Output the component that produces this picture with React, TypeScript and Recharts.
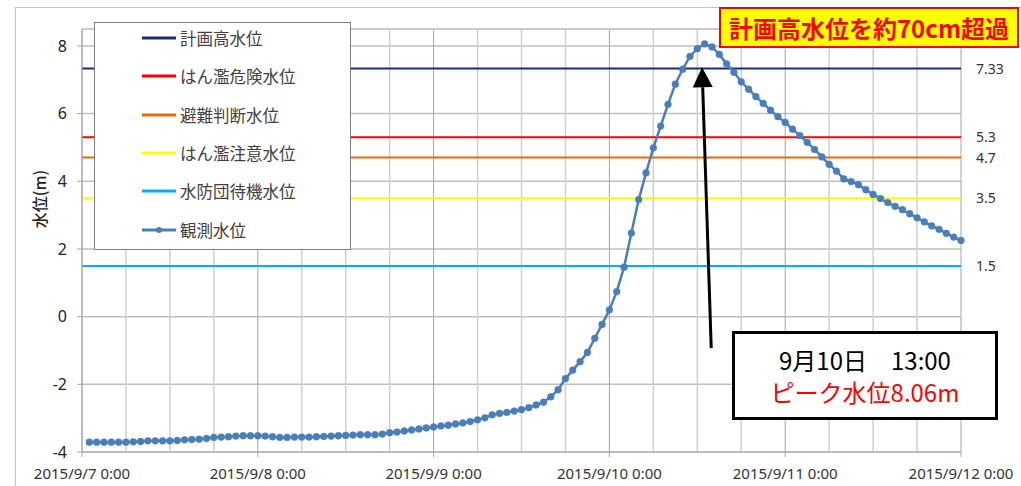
import React from 'react';
import { LineChart, Line, XAxis, YAxis, CartesianGrid, ReferenceLine, Legend } from 'recharts';

// hourly readings, 2015/9/7 1:00 .. 2015/9/12 0:00 (m)
const FIRST_HOUR = 1;
const LEVEL_M = [
  -3.71, -3.71, -3.71, -3.71, -3.71, -3.71, -3.70, -3.69, -3.67, -3.67, -3.67, -3.67,
  -3.66, -3.64, -3.63, -3.62, -3.60, -3.57, -3.56, -3.55, -3.53, -3.52, -3.52, -3.52,
  -3.53, -3.55, -3.57, -3.57, -3.56, -3.56, -3.56, -3.55, -3.54, -3.53, -3.52, -3.51,
  -3.50, -3.49, -3.49, -3.49, -3.47, -3.43, -3.41, -3.38, -3.35, -3.32, -3.29, -3.26,
  -3.23, -3.21, -3.17, -3.14, -3.10, -3.05, -2.99, -2.90, -2.86, -2.83, -2.79, -2.75,
  -2.69, -2.61, -2.53, -2.37, -2.16, -1.83, -1.58, -1.33, -1.06, -0.64, -0.23, 0.20,
  0.74, 1.46, 2.47, 3.46, 4.25, 4.99, 5.63, 6.27, 6.87, 7.31, 7.69, 7.92,
  8.06, 7.97, 7.75, 7.47, 7.22, 6.94, 6.72, 6.50, 6.30, 6.10, 5.91, 5.74,
  5.54, 5.35, 5.15, 4.94, 4.72, 4.50, 4.30, 4.07, 3.99, 3.90, 3.75, 3.61,
  3.49, 3.37, 3.26, 3.16, 3.04, 2.92, 2.80, 2.68, 2.58, 2.46, 2.35, 2.25,
];

const TICK_HOURS = [0, 24, 48, 72, 96, 120];
const TICK_LABELS = ['2015/9/7 0:00', '2015/9/8 0:00', '2015/9/9 0:00', '2015/9/10 0:00', '2015/9/11 0:00', '2015/9/12 0:00'];
const Y_TICKS = [-4, -2, 0, 2, 4, 6, 8];
const Y_MIN = -4;
const Y_MAX = 8.5;

const THRESHOLD_NAMES = ['計画高水位', 'はん濫危険水位', '避難判断水位', 'はん濫注意水位', '水防団待機水位'];
const THRESHOLD_VALUES = [7.33, 5.3, 4.7, 3.5, 1.5];
const THRESHOLD_COLORS = ['#1c2f6b', '#ff0000', '#e46c0a', '#ffff00', '#00b0f0'];

const SERIES_NAME = '観測水位';
const SERIES_COLOR = '#4a7ebb';

// arrow pointing at the peak (hour, m)
const ARROW_TAIL = { x: 85.9, y: -0.93 };
const ARROW_TIP = { x: 84.65, y: 7.37 };

const SANS = '"Noto Sans", "Noto Sans CJK JP", sans-serif';
const JP = '"Noto Sans CJK JP", "Noto Sans", sans-serif';

const chartData = LEVEL_M.map((v, i) => ({ hour: FIRST_HOUR + i, level: v }));

// 6-hour vertical grid, day lines drawn darker
const MINOR_HOURS = Array.from({ length: 21 }, (_, i) => i * 6).filter(h => h % 24 !== 0);

const Arrow = (props: any) => {
  const { x1, y1, x2, y2 } = props;
  const dx = x2 - x1;
  const dy = y2 - y1;
  const len = Math.sqrt(dx * dx + dy * dy);
  const ux = dx / len;
  const uy = dy / len;
  const head = 20;
  const half = 10;
  const bx = x2 - ux * head;
  const by = y2 - uy * head;
  const pts = `${x2},${y2} ${bx - uy * half},${by + ux * half} ${bx + uy * half},${by - ux * half}`;
  return (
    <g>
      <line x1={x1} y1={y1} x2={bx} y2={by} stroke="#000" strokeWidth={3} />
      <polygon points={pts} fill="#000" />
    </g>
  );
};

const LegendBox = () => {
  const rows = THRESHOLD_NAMES.map((n, i) => ({ name: n, color: THRESHOLD_COLORS[i], dot: false }));
  rows.push({ name: SERIES_NAME, color: SERIES_COLOR, dot: true });
  return (
    <div style={{ width: 257, height: 228, boxSizing: 'border-box', border: '1px solid #7f7f7f', background: '#fff', overflow: 'hidden' }}>
      {rows.map((r, i) => (
        <div key={r.name} style={{ height: 38.3, display: 'flex', alignItems: 'center', marginTop: i === 0 ? -4 : 0 }}>
          <svg width={36} height={10} style={{ marginLeft: 47 }}>
            <line x1={0} y1={5} x2={34} y2={5} stroke={r.color} strokeWidth={3} />
            {r.dot && <circle cx={17} cy={5} r={3} fill={r.color} />}
          </svg>
          <span style={{ fontFamily: JP, fontSize: 16.5, color: '#404040', marginLeft: 2 }}>{r.name}</span>
        </div>
      ))}
    </div>
  );
};

export default function App() {
  return (
    <div style={{ position: 'absolute', left: 0, top: 0, width: 1021, height: 486, overflow: 'hidden', background: '#fff' }}>
      <div style={{ position: 'absolute', left: 15, top: 7, width: 1100, height: 600, border: '1px solid #c4c4c4' }} />
      <LineChart width={1021} height={486} data={chartData} margin={{ top: 29, right: 60, bottom: 0, left: 0 }}>
        <CartesianGrid vertical={false} stroke="#bfbfbf" strokeWidth={1.5} />
        {MINOR_HOURS.map(h => (
          <ReferenceLine key={'g' + h} x={h} stroke="#d0d0d0" strokeWidth={1.5} />
        ))}
        {TICK_HOURS.map(h => (
          <ReferenceLine key={'d' + h} x={h} stroke="#a6a6a6" strokeWidth={1} />
        ))}
        <ReferenceLine y={Y_MAX} stroke="#c8c8c8" strokeWidth={1.5} />
        <XAxis
          dataKey="hour"
          type="number"
          domain={[0, 120]}
          ticks={TICK_HOURS}
          interval={0}
          tickFormatter={(v: number) => TICK_LABELS[TICK_HOURS.indexOf(v)]}
          height={34}
          stroke="#a6a6a6"
          tickSize={5}
          tickMargin={11}
          tick={{ fill: '#333', fontSize: 15, fontFamily: SANS }}
        />
        <YAxis
          type="number"
          domain={[Y_MIN, Y_MAX]}
          ticks={Y_TICKS}
          interval={0}
          width={82}
          stroke="#a6a6a6"
          tickSize={5}
          tickMargin={10}
          allowDataOverflow
          tick={{ fill: '#222', fontSize: 16, fontFamily: SANS }}
        />
        {THRESHOLD_VALUES.map((v, i) => (
          <ReferenceLine
            key={THRESHOLD_NAMES[i]}
            y={v}
            stroke={THRESHOLD_COLORS[i]}
            strokeWidth={2}
            label={{ value: String(v), position: 'right', offset: 15, fill: '#333', fontSize: 14, fontFamily: SANS }}
          />
        ))}
        <Line
          type="linear"
          dataKey="level"
          name={SERIES_NAME}
          stroke={SERIES_COLOR}
          strokeWidth={2.5}
          dot={{ r: 3.4, fill: SERIES_COLOR, stroke: SERIES_COLOR, strokeWidth: 0.5 }}
          activeDot={false}
          isAnimationActive={false}
        />
        <ReferenceLine segment={[ARROW_TAIL, ARROW_TIP]} shape={<Arrow />} ifOverflow="visible" />
        <Legend
          content={<LegendBox />}
          layout="horizontal"
          verticalAlign="middle"
          align="center"
          wrapperStyle={{ left: 94, top: 22, width: 257, height: 228 }}
        />
      </LineChart>

      <div
        style={{
          position: 'absolute', left: 39, top: 199, transform: 'translate(-50%, -50%) rotate(-90deg)',
          fontFamily: JP, fontSize: 16, fontWeight: 500, color: '#222', whiteSpace: 'nowrap',
        }}
      >
        水位(m)
      </div>

      <div
        style={{
          position: 'absolute', left: 719, top: 7, width: 300, height: 41, boxSizing: 'border-box',
          background: '#ffff00', border: '2px solid #ff0000', display: 'flex', alignItems: 'center', justifyContent: 'center',
          fontFamily: JP, fontWeight: 700, fontSize: 24, color: '#ff0000', whiteSpace: 'nowrap',
        }}
      >
        計画高水位を約70cm超過
      </div>

      <div
        style={{
          position: 'absolute', left: 732, top: 331, width: 266, height: 89, boxSizing: 'border-box',
          background: '#fff', border: '3px solid #000', display: 'flex', flexDirection: 'column',
          alignItems: 'center', justifyContent: 'center', fontFamily: JP, fontSize: 24, lineHeight: '32px', whiteSpace: 'nowrap',
        }}
      >
        <div style={{ color: '#000', height: 32 }}>9月10日　13:00</div>
        <div style={{ color: '#ff0000', height: 32 }}>ピーク水位8.06m</div>
      </div>
    </div>
  );
}
